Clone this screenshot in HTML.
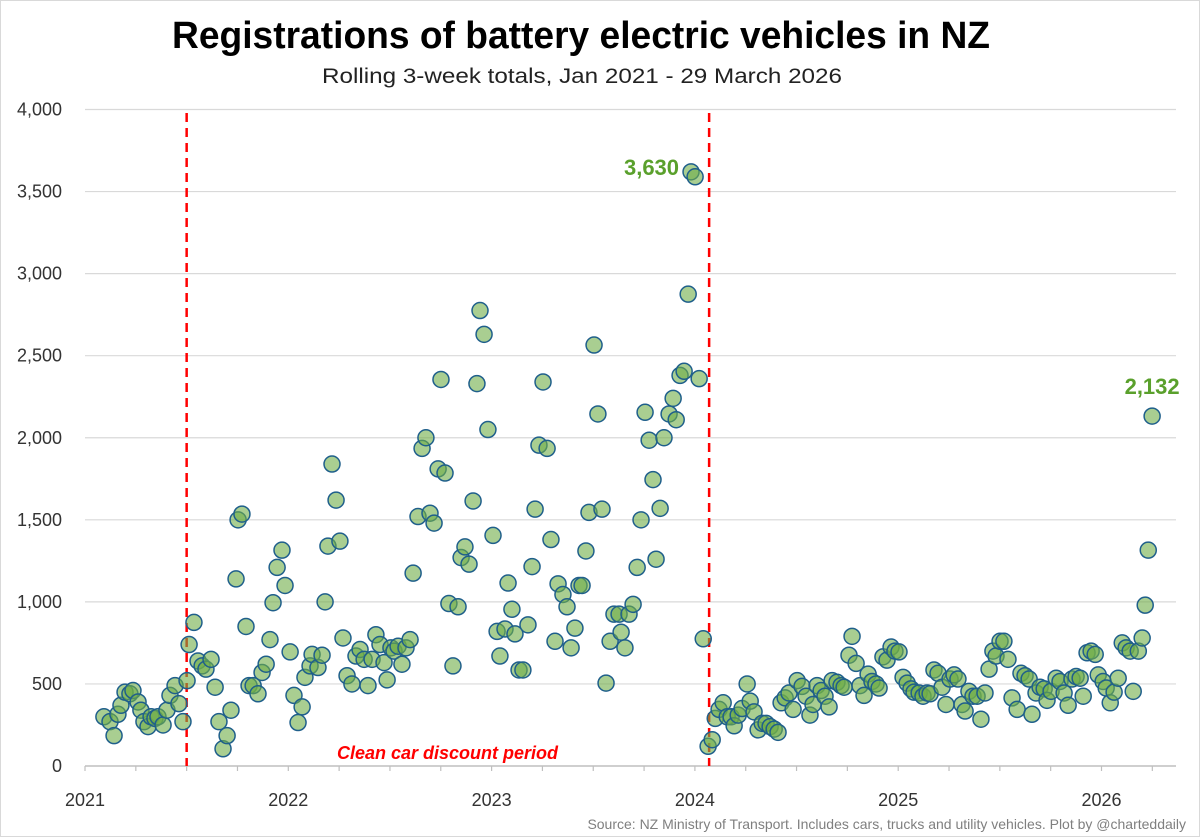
<!DOCTYPE html>
<html><head><meta charset="utf-8"><style>
html,body{margin:0;padding:0;background:#fff}
svg{display:block;font-family:"Liberation Sans",sans-serif}
</style></head><body>
<svg id="chart" width="1200" height="837" viewBox="0 0 1200 837">
<rect x="0.5" y="0.5" width="1199" height="836" fill="#fff" stroke="#d9d9d9"/>
<text x="581" y="48" text-anchor="middle" font-size="38" font-weight="bold" textLength="818" lengthAdjust="spacingAndGlyphs">Registrations of battery electric vehicles in NZ</text>
<text x="582" y="83" text-anchor="middle" font-size="21" fill="#222" textLength="520" lengthAdjust="spacingAndGlyphs">Rolling 3-week totals, Jan 2021 - 29 March 2026</text>
<g id="grid"></g>
<g id="yaxis"></g>
<g id="xaxis"></g>
<g id="vlines"></g>
<g id="points"></g>
<text x="558" y="759" text-anchor="end" font-size="18" font-weight="bold" font-style="italic" fill="#ff0000">Clean car discount period</text>
<text x="1186" y="829" text-anchor="end" font-size="14" fill="#7f7f7f">Source: NZ Ministry of Transport. Includes cars, trucks and utility vehicles. Plot by @charteddaily</text>
</svg>
<script>
const years = [0.093,0.123,0.143,0.162,0.177,0.197,0.221,0.236,0.261,0.275,0.290,0.310,0.325,0.344,0.359,0.384,0.403,0.418,0.443,0.462,0.482,0.502,0.512,0.536,0.556,0.576,0.595,0.620,0.640,0.659,0.679,0.699,0.718,0.743,0.753,0.772,0.792,0.807,0.827,0.851,0.871,0.891,0.910,0.925,0.945,0.969,0.984,1.009,1.028,1.048,1.068,1.082,1.107,1.117,1.146,1.166,1.181,1.195,1.215,1.235,1.254,1.269,1.289,1.313,1.333,1.353,1.373,1.392,1.412,1.431,1.451,1.471,1.486,1.505,1.520,1.540,1.559,1.579,1.599,
1.614,1.638,1.658,1.677,1.697,1.717,1.737,1.751,1.771,1.790,1.810,1.835,1.850,1.869,1.889,1.909,1.928,1.943,1.963,1.982,2.007,2.027,2.041,2.066,2.081,2.100,2.115,2.135,2.154,2.179,2.199,2.214,2.233,2.253,2.273,2.292,2.312,2.327,2.351,2.371,2.391,2.410,2.430,2.445,2.464,2.479,2.504,2.523,2.543,2.563,2.583,2.602,2.627,2.637,2.656,2.676,2.696,2.716,2.735,2.755,2.775,2.794,2.809,2.829,2.848,2.873,2.893,2.908,2.927,2.947,2.967,2.981,3.001,3.021,3.041,3.065,3.085,
3.100,3.119,3.139,3.159,3.178,3.193,3.213,3.232,3.257,3.272,3.291,3.311,3.331,3.350,3.370,3.390,3.409,3.424,3.444,3.463,3.483,3.503,3.527,3.547,3.566,3.581,3.601,3.621,3.640,3.660,3.675,3.699,3.719,3.734,3.758,3.773,3.793,3.812,3.832,3.852,3.871,3.891,3.906,3.925,3.945,3.965,3.984,4.004,4.024,4.044,4.063,4.078,4.103,4.122,4.142,4.157,4.176,4.196,4.216,4.235,4.255,4.275,4.294,4.314,4.329,4.348,4.368,4.388,4.407,4.427,4.447,4.466,4.481,4.501,4.520,4.540,4.560,4.585,4.604,4.624,4.644,4.658,4.678,4.698,4.718,4.732,4.752,4.777,4.796,4.816,4.836,4.855,4.875,4.895,4.910,4.929,4.949,4.969,4.984,5.008,5.023,5.043,5.062,5.082,5.102,5.121,5.141,5.156,5.181,5.200,5.215,5.230,5.249];
const values = [300,270,185,315,370,450,440,460,390,340,270,240,300,290,300,250,340,430,490,380,270,520,740,875,640,610,590,650,480,270,105,185,340,1140,1500,1535,850,490,490,440,570,620,770,995,1210,1315,1100,695,430,265,360,540,610,680,600,675,1000,1340,1840,1620,1370,780,550,500,670,710,650,490,650,800,740,630,525,720,700,730,620,720,770,
1175,1520,1935,2000,1540,1480,1810,2355,1785,990,610,970,1270,1335,1230,1615,2330,2775,2630,2050,1405,820,670,835,1115,955,805,585,585,860,1215,1565,1955,2340,1935,1380,760,1110,1045,970,720,840,1100,1100,1310,1545,2565,2145,1565,505,760,925,925,815,720,925,985,1210,1500,2155,1985,1745,1260,1570,2000,2145,2240,2110,2380,2405,2875,3620,3590,2360,775,120,160,
290,345,385,300,300,245,310,350,500,395,330,220,260,260,240,225,205,385,415,445,345,520,485,425,310,375,490,460,425,360,520,510,490,480,675,790,625,490,430,560,515,500,475,665,645,725,700,695,540,505,470,450,445,425,445,440,585,565,480,375,530,555,530,375,335,455,425,425,285,445,590,700,670,760,760,650,415,345,565,550,530,315,445,480,470,400,455,535,515,445,370,530,545,535,425,690,700,680,555,515,475,385,450,535,750,720,700,455,700,780,980,1315,2132];
const yTicks = [0,500,1000,1500,2000,2500,3000,3500,4000];
const xTickLabels = ["2021","2022","2023","2024","2025","2026"];
const policyLines = [0.5, 3.07];
const annotations = [{i:values.indexOf(3620), label:"3,630"},{i:values.length-1, label:"2,132"}];

const NS="http://www.w3.org/2000/svg";
const X0=85, XPER=203.3, Y0=766, YTOP=109.5;
const xs = y => X0 + y*XPER;
const ys = v => Y0 - v/4000*(Y0-YTOP);
function mk(tag, attrs, parent){const e=document.createElementNS(NS,tag);for(const k in attrs)e.setAttribute(k,attrs[k]);parent.appendChild(e);return e;}
const grid=document.getElementById('grid'), yax=document.getElementById('yaxis'), xax=document.getElementById('xaxis');
yTicks.forEach(v=>{
  if(v>0){const l=mk('line',{x1:X0,x2:1176,y1:ys(v),y2:ys(v),stroke:'#d9d9d9','stroke-width':1.2},grid);
  
  }
  const t=mk('text',{x:62,y:ys(v)+6,'text-anchor':'end','font-size':18,fill:'#333'},yax);
  t.textContent=v.toLocaleString('en-US');
  
  
});
const ax=mk('line',{x1:X0,x2:1176,y1:Y0,y2:Y0,stroke:'#bfbfbf','stroke-width':1.5},xax);


for(let q=0;q<=21;q++){
  const x=xs(q/4); if(x>1176)break;
  const tk=mk('line',{x1:x,x2:x,y1:Y0,y2:Y0+5,stroke:'#bfbfbf','stroke-width':1.2},xax);
  
  
}
xTickLabels.forEach((s,i)=>{
  const t=mk('text',{x:xs(i),y:806,'text-anchor':'middle','font-size':18,fill:'#333'},xax);
  t.textContent=s;
  
  
});
const vl=document.getElementById('vlines');
policyLines.forEach(p=>{
  const l=mk('line',{x1:xs(p),x2:xs(p),y1:113,y2:Y0,stroke:'#ff0000','stroke-width':2.5,'stroke-dasharray':'9,6'},vl);
  
  
});
const pts=document.getElementById('points');
values.forEach((v,i)=>{
  const c=mk('circle',{cx:xs(years[i]),cy:ys(v),r:8,fill:'rgba(112,173,71,0.6)',stroke:'#1f5f8b','stroke-width':1.5},pts);
  
  
});
const svg=document.getElementById('chart');
annotations.forEach((a,k)=>{
  const x=xs(years[a.i]), y=ys(values[a.i]);
  const t=mk('text',{x:k==0?x-12:x, y:k==0?y+3:y-22,'text-anchor':k==0?'end':'middle','font-size':22,'font-weight':'bold',fill:'#5aa02c'},svg);
  t.textContent=a.label;
  
  
});
</script>
</body></html>
